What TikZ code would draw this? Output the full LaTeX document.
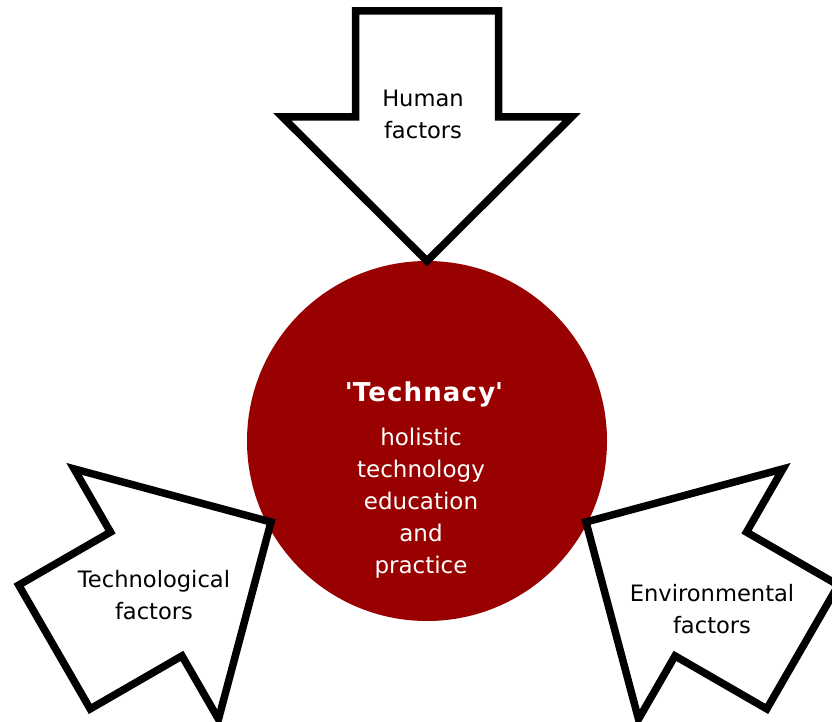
\documentclass[tikz,border=0pt]{standalone}
\usepackage{fontspec}
\setmainfont{DejaVu Sans}
\definecolor{techred}{HTML}{990000}
\begin{document}
\begin{tikzpicture}[x=1pt,y=-1pt,
  factorarrow/.style={draw=black, fill=white, line width=7.5pt, line join=miter},
  factorlabel/.style={align=center, text=black, font=\fontsize{22.6}{32}\selectfont},
  corelabel/.style={align=center, text=white}]
\useasboundingbox (0,0) rectangle (832,722);
\clip (0,0) rectangle (832,722);

% central disc
\node[circle, fill=techred, minimum size=360pt, inner sep=0pt] (core) at (427,441) {};

% three block arrows pointing at the disc
\draw[factorarrow] (427,261) -- (571.5,117) -- (498.5,117) -- (498.5,11)
  -- (355.5,11) -- (355.5,117) -- (282.5,117) -- cycle;
\draw[factorarrow] (271,522) -- (74.1,468.9) -- (110.5,532.1) -- (18.7,585.1)
  -- (90.2,708.9) -- (182,655.9) -- (218.5,719.1) -- cycle;
\draw[factorarrow] (586,522) -- (782.9,468.9) -- (746.5,532.1) -- (838.3,585.1)
  -- (766.8,708.9) -- (675,655.9) -- (638.5,719.1) -- cycle;

% labels
\node[factorlabel] (human) at (423,114) {Human\\factors};
\node[factorlabel] (techno) at (154,595.5) {Technological\\factors};
\node[factorlabel] (enviro) at (712,609) {Environmental\\factors};
\node[corelabel, font=\bfseries\fontsize{26}{32}\selectfont\addfontfeatures{LetterSpace=4.5}] (title) at (424,394.5)
  {\textquotesingle Technacy\textquotesingle};
\node[corelabel, font=\fontsize{23}{32}\selectfont] (body) at (421,503.5)
  {holistic\\technology\\education\\and\\practice};
\end{tikzpicture}
\end{document}
